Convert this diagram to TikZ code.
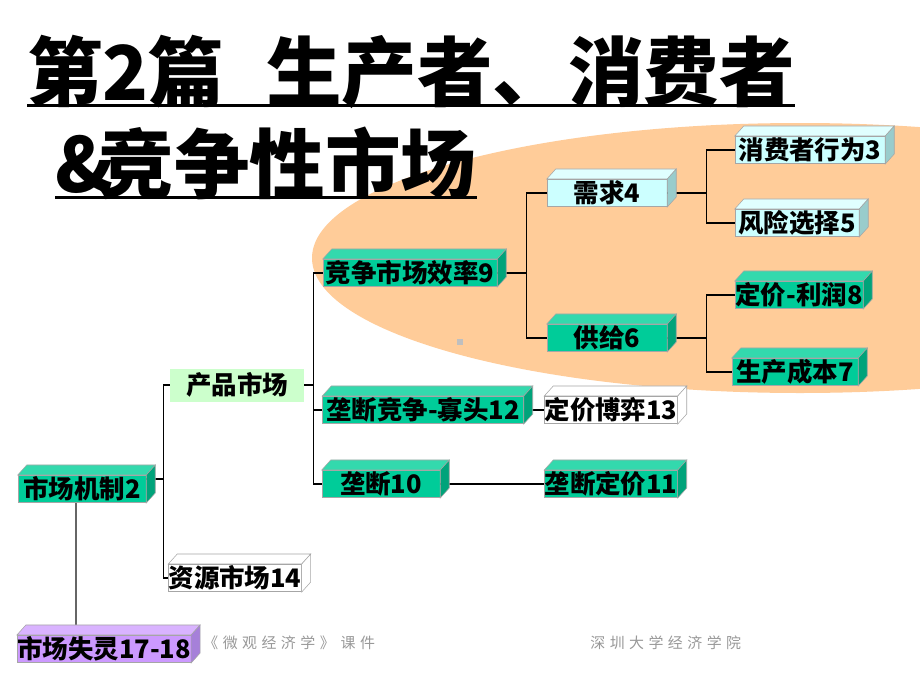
\documentclass[tikz,border=0pt]{standalone}
\usepackage{fontspec}
\usepackage{tikz}
\newfontfamily\cjk{Noto Sans CJK SC}
\newfontfamily\footfont[LetterSpace=30]{Noto Sans CJK SC}
\definecolor{BoxGreen}{HTML}{00CC99}
\definecolor{BoxGreenTop}{HTML}{33D9AD}
\definecolor{BoxGreenSide}{HTML}{00A37A}
\definecolor{BoxCyan}{HTML}{CCFFFF}
\definecolor{BoxCyanTop}{HTML}{E0FFFF}
\definecolor{BoxCyanSide}{HTML}{99CCCC}
\definecolor{BoxPurple}{HTML}{CC99FF}
\definecolor{BoxPurpleTop}{HTML}{D9B3FF}
\definecolor{BoxPurpleSide}{HTML}{A680D9}
\definecolor{MintFill}{HTML}{CCFFCC}
\definecolor{Peach}{HTML}{FFCC99}
\definecolor{FootGray}{HTML}{999999}

% top and side faces of a block
\newcommand{\boxfaces}[3]{%
  \filldraw[fill=#2, draw=gray!70, line width=0.3pt]
    (#1.north west) -- ++(9,-10) -- ([shift={(9,-10)}]#1.north east) -- (#1.north east) -- cycle;
  \filldraw[fill=#3, draw=gray!70, line width=0.3pt]
    (#1.north east) -- ++(9,-10) -- ([shift={(9,-10)}]#1.south east) -- (#1.south east) -- cycle;
}

\begin{document}
\begin{tikzpicture}[
    x=0.02cm, y=-0.02cm,
    blk/.style={minimum height=0.55cm, inner sep=0pt, draw=gray!70, line width=0.3pt, font=\cjk\bfseries\fontsize{14.5}{14.5}\selectfont},
    greenblk/.style={blk, fill=BoxGreen},
    cyanblk/.style={blk, fill=BoxCyan},
    whiteblk/.style={blk, fill=white},
    purpleblk/.style={blk, fill=BoxPurple},
    mintblk/.style={blk, draw=none, fill=MintFill, minimum height=0.66cm},
    link/.style={draw=black, line width=0.6pt},
    titletext/.style={anchor=base west, inner sep=0pt, font=\cjk\bfseries\fontsize{43}{43}\selectfont},
    foot/.style={anchor=west, inner sep=0pt, text=FootGray, font=\footfont\fontsize{8.5}{8.5}\selectfont}
]
    \useasboundingbox (0,0) rectangle (920,690);
    \fill[white] (0,0) rectangle (920,690);
    \fill[Peach] (800,258) ellipse [x radius=488, y radius=135];
    \fill[black!25] (457,339) rectangle (463,345);

    \node[titletext] (title1) at (27,100) {第2篇\hspace{0.55em}生产者、消费者};
    \node[titletext] (title2) at (55,192) {\&\hspace{-0.2em}竞争性市场};
    \draw[line width=2pt] ([yshift=-3pt]title1.base west) -- ([yshift=-3pt]title1.base east);
    \draw[line width=2pt] ([yshift=-3pt]title2.base west) -- ([yshift=-3pt]title2.base east);

    \node[cyanblk, minimum width=3.00cm] (consumer) at (810,150) {消费者行为3};
    \node[cyanblk, minimum width=2.40cm] (demand) at (607,193) {需求4};
    \node[cyanblk, minimum width=2.48cm] (risk) at (797,223) {风险选择5};
    \node[greenblk, minimum width=3.48cm] (efficiency) at (410,273) {竞争市场效率9};
    \node[greenblk, minimum width=2.56cm] (pricing) at (799,295) {定价-利润8};
    \node[greenblk, minimum width=2.40cm] (supply) at (607,338) {供给6};
    \node[greenblk, minimum width=2.52cm] (cost) at (795,372) {生产成本7};
    \node[mintblk, minimum width=2.68cm] (product) at (237,385) {产品市场};
    \node[greenblk, minimum width=4.02cm] (oligopoly) at (423,410) {垄断竞争-寡头12};
    \node[whiteblk, minimum width=2.56cm] (game) at (611,410) {定价博弈13};
    \node[greenblk, minimum width=2.36cm] (monopoly) at (381,484) {垄断10};
    \node[greenblk, minimum width=2.56cm] (monoprice) at (611,484) {垄断定价11};
    \node[greenblk, minimum width=2.56cm] (mechanism) at (82,489) {市场机制2};
    \node[whiteblk, minimum width=2.62cm] (resource) at (235,578) {资源市场14};
    \node[purpleblk, minimum width=3.44cm] (failure) at (104,649) {市场失灵17-18};

    \draw[link] (demand.east) -- ++(39,0) |- (consumer);
    \draw[link] (demand.east) -- ++(39,0) |- (risk);
    \draw[link] (supply.east) -- ++(39,0) |- (pricing);
    \draw[link] (supply.east) -- ++(39,0) |- (cost);
    \draw[link] (efficiency.east) -- ++(29,0) |- (demand);
    \draw[link] (efficiency.east) -- ++(29,0) |- (supply);
    \draw[link] (product.east) -- ++(9,0) |- (efficiency);
    \draw[link] (product.east) -- ++(9,0) |- (oligopoly);
    \draw[link] (product.east) -- ++(9,0) |- (monopoly);
    \draw[link] (oligopoly) -- (game);
    \draw[link] (monopoly) -- (monoprice);
    \draw[link] ([yshift=0.2cm]mechanism.east) -- ++(17,0) |- (product);
    \draw[link] ([yshift=0.2cm]mechanism.east) -- ++(17,0) |- (resource);
    \draw[draw=gray!80!black, line width=1.2pt] ([xshift=-0.12cm]mechanism.south) -- ([xshift=-0.12cm]mechanism.south |- failure.north);

    \boxfaces{consumer}{BoxCyanTop}{BoxCyanSide}
    \boxfaces{demand}{BoxCyanTop}{BoxCyanSide}
    \boxfaces{risk}{BoxCyanTop}{BoxCyanSide}
    \boxfaces{efficiency}{BoxGreenTop}{BoxGreenSide}
    \boxfaces{pricing}{BoxGreenTop}{BoxGreenSide}
    \boxfaces{supply}{BoxGreenTop}{BoxGreenSide}
    \boxfaces{cost}{BoxGreenTop}{BoxGreenSide}
    \boxfaces{oligopoly}{BoxGreenTop}{BoxGreenSide}
    \boxfaces{game}{white}{white}
    \boxfaces{monopoly}{BoxGreenTop}{BoxGreenSide}
    \boxfaces{monoprice}{BoxGreenTop}{BoxGreenSide}
    \boxfaces{mechanism}{BoxGreenTop}{BoxGreenSide}
    \boxfaces{resource}{white}{white}
    \boxfaces{failure}{BoxPurpleTop}{BoxPurpleSide}

    \node[foot] (course) at (203,643) {《微观经济学》\hspace{0.4em}课件};
    \node[foot] (school) at (590,643) {深圳大学经济学院};
\end{tikzpicture}
\end{document}
